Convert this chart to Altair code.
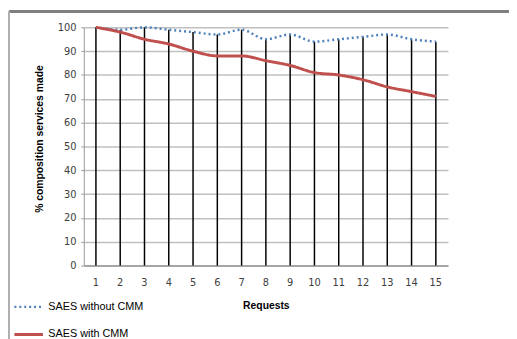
import altair as alt
import pandas as pd

requests = list(range(1, 16))
without_cmm = [100, 99, 100, 99, 98, 97, 99, 95, 97, 94, 95, 96, 97, 95, 94]
with_cmm = [100, 98, 95, 93, 90, 88, 88, 86, 84, 81, 80, 78, 75, 73, 71]
series_names = ["SAES without CMM", "SAES with CMM"]
y_ticks = list(range(0, 101, 10))

rows = []
for r, a, b in zip(requests, without_cmm, with_cmm):
    rows.append({"Request": str(r), "series": series_names[0], "value": a, "order": r})
    rows.append({"Request": str(r), "series": series_names[1], "value": b, "order": r})
df = pd.DataFrame(rows)

drop = pd.DataFrame({
    "Request": [str(r) for r in requests],
    "top": [max(a, b) for a, b in zip(without_cmm, with_cmm)],
    "zero": [0] * len(requests),
})

x_sort = [str(r) for r in requests]
x_scale = alt.Scale(paddingInner=0, paddingOuter=0, align=0.5)
x_axis = alt.Axis(title="Requests", labelAngle=0, ticks=False, grid=False,
                  labelPadding=12, titlePadding=14,
                  labelFont="DejaVu Sans", labelFontSize=10, labelColor="#404040",
                  titleFont="Liberation Sans", titleFontSize=10.5, titleFontWeight="bold",
                  titleColor="#000000", domainColor="#999999", domainWidth=1.5)

y_scale = alt.Scale(domain=[0, 100], nice=False)
y_axis = alt.Axis(title="% composition services made", values=y_ticks, tickSize=3,
                  labelOverlap=False,
                  tickColor="#999999", gridColor="#c0c0c0", gridWidth=1.5,
                  domainColor="#999999", labelPadding=5,
                  labelFont="DejaVu Sans", labelFontSize=10, labelColor="#404040",
                  titleFont="Liberation Sans", titleFontSize=10.5, titleFontWeight="bold",
                  titleColor="#000000", titlePadding=13, titleY=113)

rules = alt.Chart(drop).mark_rule(color="black", strokeWidth=1.5).encode(
    x=alt.X("Request:N", sort=x_sort, scale=x_scale, axis=x_axis),
    y=alt.Y("zero:Q", scale=y_scale, axis=y_axis),
    y2="top:Q",
)

lines = alt.Chart(df).mark_line(interpolate="monotone").encode(
    x=alt.X("Request:N", sort=x_sort, scale=x_scale, axis=x_axis),
    y=alt.Y("value:Q", scale=y_scale, axis=y_axis),
    order="order:Q",
    color=alt.Color("series:N", scale=alt.Scale(domain=series_names, range=["#4F81BD", "#C0504D"]),
                    legend=alt.Legend(title=None, orient="none", legendX=-72, legendY=268,
                                      symbolType="stroke", symbolSize=841, symbolStrokeWidth=2.5,
                                      labelFont="Liberation Sans", labelFontSize=11,
                                      labelColor="#000000", labelOffset=4, rowPadding=7)),
    strokeDash=alt.StrokeDash("series:N", scale=alt.Scale(domain=series_names, range=[[2, 3], [1, 0]]),
                              legend=None),
    strokeWidth=alt.StrokeWidth("series:N", scale=alt.Scale(domain=series_names, range=[2.5, 3]),
                                legend=None),
)

frame_top = alt.Chart(drop).mark_rule(color="#808080", strokeWidth=1.5).encode(
    x=alt.value(-76), x2=alt.value(440), y=alt.value(-16))
frame_left = alt.Chart(drop).mark_rule(color="#b0b0b0", strokeWidth=1.5).encode(
    x=alt.value(-76), y=alt.value(-16), y2=alt.value(320))

chart = alt.layer(frame_top, frame_left, rules, lines).properties(
    width=370, height=242,
    autosize=alt.AutoSizeParams(type="none"),
    padding={"left": 77, "top": 17, "right": 62, "bottom": 72},
).configure_view(stroke=None)

chart.save("out.html", embed_options={"renderer": "svg", "actions": False})
